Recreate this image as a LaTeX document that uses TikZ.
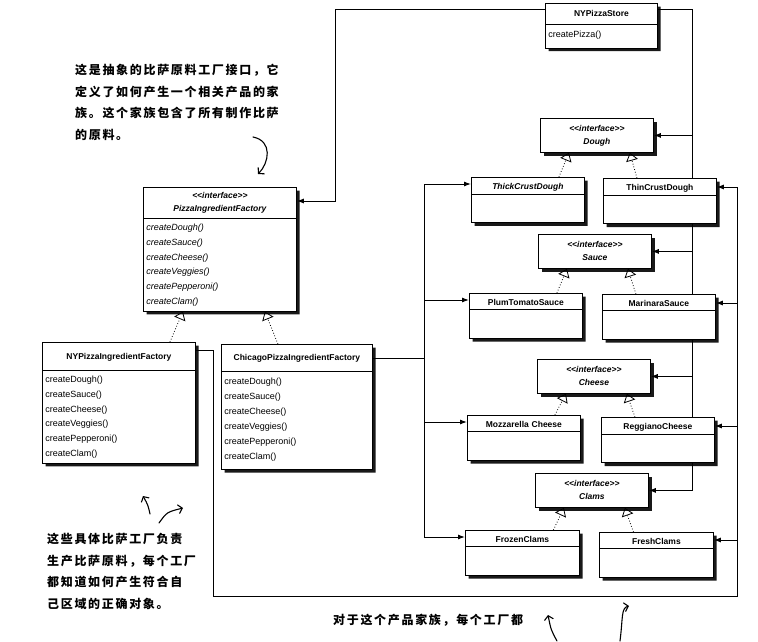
\documentclass[tikz,border=0pt]{standalone}
\usepackage{fontspec}
\setmainfont{Liberation Sans}
\newfontfamily\hand[LetterSpace=14]{Noto Sans CJK SC}
\usetikzlibrary{shapes.multipart, shadows, arrows.meta, backgrounds}

\newcommand{\hcenter}[1]{\hspace*{\fill}#1\hspace*{\fill}}

\tikzset{
  boxshadow/.style={drop shadow={fill=black, opacity=0.9, shadow xshift=3.2pt, shadow yshift=-3.2pt}},
  classbox/.style={rectangle split, rectangle split parts=2, draw, fill=white, line width=0.8pt,
    inner xsep=3pt, inner ysep=2pt, text width=#1, align=left,
    font=\fontsize{8.5}{10}\selectfont, boxshadow, anchor=north west},
  ifacebox/.style={draw, fill=white, line width=0.8pt, minimum width=113pt, minimum height=34pt,
    align=center, font=\fontsize{8.5}{13}\selectfont\bfseries\itshape, boxshadow, anchor=north west},
  assoc/.style={-{Latex[length=7pt,width=5pt]}, line width=1pt},
  realize/.style={-{Triangle[open,length=8pt,width=12pt]}, dotted, line width=0.8pt},
  scribble/.style={-{Straight Barb[length=4pt,width=9pt]}, line width=1.1pt, line cap=round},
  note/.style={anchor=north west, align=left, inner sep=0pt, font=\hand\bfseries\fontsize{12}{21.5}\selectfont}
}

\begin{document}
\begin{tikzpicture}[x=1pt, y=-1pt]
    \useasboundingbox (0,0) rectangle (758,642);

    % Factories
    \node[classbox=106pt] (store) at (545,3)
        {\bfseries\rule[-5pt]{0pt}{16pt}\hcenter{NYPizzaStore}\par
         \nodepart{two}\fontsize{9}{10}\selectfont\rule[-8.5pt]{0pt}{19pt}createPizza()\par};
    \node[classbox=147pt] (pif) at (143,187)
        {\bfseries\itshape\fontsize{8.5}{13}\selectfont\strut\hcenter{<{}<interface>{}>}\par\hcenter{PizzaIngredientFactory}\strut\par
         \nodepart{two}\itshape\fontsize{9}{14.7}\selectfont\strut createDough()\\createSauce()\\createCheese()\\createVeggies()\\createPepperoni()\\createClam()\strut\par};
    \node[classbox=147pt] (nyf) at (42,342)
        {\bfseries\rule[-8pt]{0pt}{23pt}\hcenter{NYPizzaIngredientFactory}\par
         \nodepart{two}\fontsize{9}{14.7}\selectfont\strut createDough()\\createSauce()\\createCheese()\\createVeggies()\\createPepperoni()\\createClam()\strut\par};
    \node[classbox=145pt] (chf) at (221,344)
        {\bfseries\rule[-8pt]{0pt}{22pt}\hcenter{ChicagoPizzaIngredientFactory}\par
         \nodepart{two}\fontsize{9}{15}\selectfont\strut createDough()\\createSauce()\\createCheese()\\createVeggies()\\createPepperoni()\\createClam()\rule[-8pt]{0pt}{0pt}\par};

    % Products
    \node[ifacebox] (dough) at (540,118) {<{}<interface>{}>\\Dough};
    \node[classbox=107pt] (thick) at (471,177) {\bfseries\itshape\rule[-1.5pt]{0pt}{11.5pt}\hcenter{ThickCrustDough}\par\nodepart{two}\rule{0pt}{24pt}};
    \node[classbox=107pt] (thin) at (603,178) {\bfseries\rule[-1.5pt]{0pt}{11.5pt}\hcenter{ThinCrustDough}\par\nodepart{two}\rule{0pt}{24pt}};

    \node[ifacebox] (sauce) at (538,234) {<{}<interface>{}>\\Sauce};
    \node[classbox=107pt] (plum) at (469,293) {\bfseries\rule[-1.5pt]{0pt}{11.5pt}\hcenter{PlumTomatoSauce}\par\nodepart{two}\rule{0pt}{24pt}};
    \node[classbox=107pt] (marinara) at (602,294) {\bfseries\rule[-1.5pt]{0pt}{11.5pt}\hcenter{MarinaraSauce}\par\nodepart{two}\rule{0pt}{24pt}};

    \node[ifacebox] (cheese) at (537,359) {<{}<interface>{}>\\Cheese};
    \node[classbox=107pt] (mozz) at (467,415) {\bfseries\rule[-1.5pt]{0pt}{11.5pt}\hcenter{Mozzarella Cheese}\par\nodepart{two}\rule{0pt}{24pt}};
    \node[classbox=107pt] (reggiano) at (601,417) {\bfseries\rule[-1.5pt]{0pt}{11.5pt}\hcenter{ReggianoCheese}\par\nodepart{two}\rule{0pt}{24pt}};

    \node[ifacebox] (clams) at (535,473) {<{}<interface>{}>\\Clams};
    \node[classbox=108pt] (frozen) at (465,530) {\bfseries\rule[-1.5pt]{0pt}{11.5pt}\hcenter{FrozenClams}\par\nodepart{two}\rule{0pt}{24pt}};
    \node[classbox=108pt] (fresh) at (599,532) {\bfseries\rule[-1.5pt]{0pt}{11.5pt}\hcenter{FreshClams}\par\nodepart{two}\rule{0pt}{24pt}};

    % Attach points and bus lines
    \coordinate (storeW) at ([yshift=-7pt]store.north west);
    \coordinate (storeE) at ([yshift=-7pt]store.north east);
    \coordinate (pifH) at ([yshift=-14pt]pif.north east);
    \coordinate (nyfH) at ([yshift=-8pt]nyf.north east);
    \coordinate (chfH) at ([yshift=-14pt]chf.north east);
    \coordinate (thickH) at ([yshift=-7pt]thick.north west);
    \coordinate (plumH) at ([yshift=-7pt]plum.north west);
    \coordinate (mozzH) at ([yshift=-7pt]mozz.north west);
    \coordinate (frozenH) at ([yshift=-7pt]frozen.north west);
    \coordinate (thinH) at ([yshift=-9pt]thin.north east);
    \coordinate (marinaraH) at ([yshift=-9pt]marinara.north east);
    \coordinate (reggianoH) at ([yshift=-9pt]reggiano.north east);
    \coordinate (freshH) at ([yshift=-8pt]fresh.north east);
    \coordinate (busT) at (335,0);
    \coordinate (busR) at (692,0);
    \coordinate (busO) at (737,0);
    \coordinate (busC) at (424,0);
    \coordinate (busL) at (213,596);

    % Arrows
    \begin{scope}[on background layer]
        \draw[assoc] (storeW) -| (busT |- pifH) -- (pifH);

        \draw[assoc] (storeE) -| (busR |- clams.east) -- (clams.east);
        \draw[assoc] (busR |- dough.east) -- (dough.east);
        \draw[assoc] (busR |- sauce.east) -- (sauce.east);
        \draw[assoc] (busR |- cheese.east) -- (cheese.east);

        \draw[assoc] (chfH) -| (busC |- thickH) -- (thickH);
        \draw[assoc] (busC |- chfH) |- (frozenH);
        \draw[assoc] (busC |- plumH) -- (plumH);
        \draw[assoc] (busC |- mozzH) -- (mozzH);

        \draw[assoc] (nyfH) -| (busL) -| (busO |- thinH) -- (thinH);
        \draw[assoc] (busO |- marinaraH) -- (marinaraH);
        \draw[assoc] (busO |- reggianoH) -- (reggianoH);
        \draw[assoc] (busO |- freshH) -- (freshH);
    \end{scope}

    \draw[realize] ([xshift=51pt]nyf.north) -- ([xshift=-37pt]pif.south);
    \draw[realize] ([xshift=-19pt]chf.north) -- ([xshift=45pt]pif.south);
    \draw[realize] ([xshift=31pt]thick.north) -- ([xshift=-28pt]dough.south);
    \draw[realize] ([xshift=-23pt]thin.north) -- ([xshift=33pt]dough.south);
    \draw[realize] ([xshift=31pt]plum.north) -- ([xshift=-28pt]sauce.south);
    \draw[realize] ([xshift=-23pt]marinara.north) -- ([xshift=33pt]sauce.south);
    \draw[realize] ([xshift=31pt]mozz.north) -- ([xshift=-28pt]cheese.south);
    \draw[realize] ([xshift=-23pt]reggiano.north) -- ([xshift=33pt]cheese.south);
    \draw[realize] ([xshift=31pt]frozen.north) -- ([xshift=-28pt]clams.south);
    \draw[realize] ([xshift=-23pt]fresh.north) -- ([xshift=33pt]clams.south);

    % Annotation
    \node[note] (note1) at (75,64) {这是抽象的比萨原料工厂接口，它\\定义了如何产生一个相关产品的家\\族。这个家族包含了所有制作比萨\\的原料。};
    \node[note] (note2) at (47,533) {这些具体比萨工厂负责\\生产比萨原料，每个工厂\\都知道如何产生符合自\\己区域的正确对象。};
    \node[note] (note3) at (333,614) {对于这个产品家族，每个工厂都};

    \draw[scribble] (253,137) .. controls (273,141) and (269,163) .. (258,174);
    \draw[scribble] (150,514) .. controls (148,505) .. (143,496);
    \draw[scribble] (159,523) .. controls (167,512) .. (183,508);
    \draw[scribble] (557,641) .. controls (551,630) .. (548,615);
    \draw[scribble] (620,641) .. controls (623,618) and (621,608) .. (629,606);
\end{tikzpicture}
\end{document}
